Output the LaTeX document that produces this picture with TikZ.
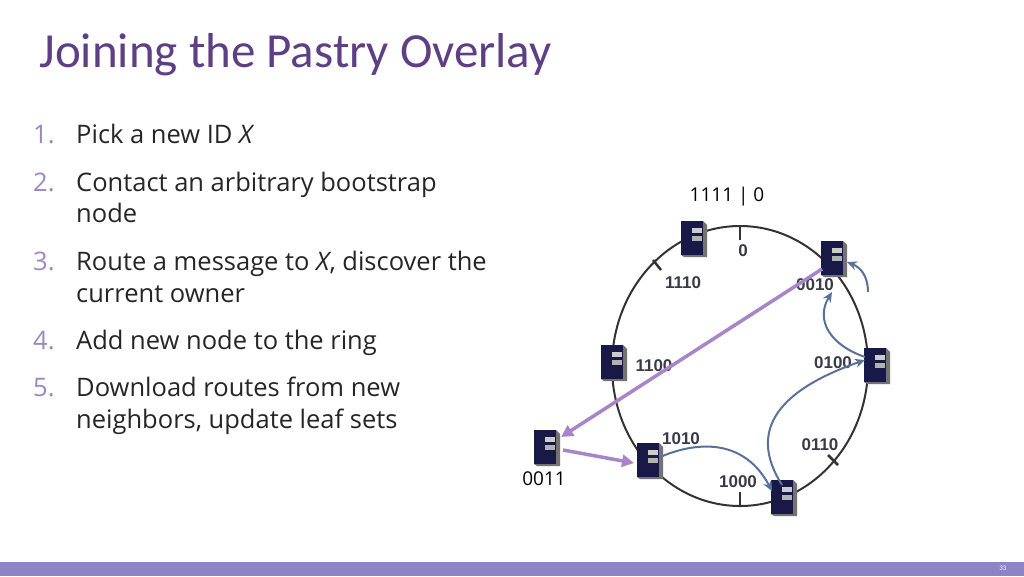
\documentclass[tikz,border=0pt]{standalone}
\usepackage{fontspec}
\setmainfont{Carlito}
\newfontfamily\lab{Liberation Sans}
\newfontfamily\body{Open Sans}
\usetikzlibrary{arrows.meta}
\definecolor{ttl}{HTML}{5E3F86}
\definecolor{num}{HTML}{9B87C4}
\definecolor{bar}{HTML}{8C84C6}
\definecolor{pur}{HTML}{A884C8}
\definecolor{blu}{HTML}{5A7198}
\definecolor{lbl}{HTML}{3A3A48}
\tikzset{
 srv/.pic={
  \fill[black!80!blue!90!white] (-11,-17) rectangle (11,17);
  \fill[black!55] (11,-17) -- (15,-13) -- (15,19) -- (-8,19) -- (-11,17) -- (11,17) -- cycle;
  \fill[gray!60] (0,-2) rectangle (10,3);
  \fill[gray!40] (0,-10) rectangle (10,-5);
 },
 lb/.style={font=\lab\bfseries\fontsize{17}{17}\selectfont, text=lbl},
 it/.style={anchor=base west, inner sep=0pt, font=\body\fontsize{25.5}{32}\selectfont, text=black!85},
 nm/.style={anchor=base west, inner sep=0pt, font=\body\fontsize{25.5}{32}\selectfont, text=num},
 parr/.style={pur, line width=3.5pt, -{Triangle[length=12pt,width=12pt]}},
 barr/.style={blu, line width=2pt, -{Stealth[length=10pt,width=9pt]}},
}
\begin{document}
\begin{tikzpicture}[x=1pt,y=-1pt]
\useasboundingbox (0,0) rectangle (1024,576);
\fill[white] (0,0) rectangle (1024,576);
\fill[bar] (0,562) rectangle (1024,576);
\node[anchor=east, text=white, font=\fontsize{7}{7}\selectfont] (pg) at (1010,568) {33};
\node[anchor=west, text=ttl, font=\fontsize{49}{49}\selectfont] (title) at (36,55) {Joining the Pastry Overlay};
\node[nm] (n1) at (33,143) {1.}; \node[it] (t1) at (76,143) {Pick a new ID \textit{X}};
\node[nm] (n2) at (33,191) {2.}; \node[it] (t2) at (76,191) {Contact an arbitrary bootstrap};
\node[it] (t2b) at (76,222) {node};
\node[nm] (n3) at (33,270) {3.}; \node[it] (t3) at (76,270) {Route a message to \textit{X}, discover the};
\node[it] (t3b) at (76,302) {current owner};
\node[nm] (n4) at (33,349) {4.}; \node[it] (t4) at (76,349) {Add new node to the ring};
\node[nm] (n5) at (33,396) {5.}; \node[it] (t5) at (76,396) {Download routes from new};
\node[it] (t5b) at (76,428) {neighbors, update leaf sets};

% ring
\draw[black!80, line width=2pt] (740,366) ellipse [x radius=128, y radius=140];
\draw[black!80, line width=2.5pt] (740,226) -- (740,240);
\draw[black!80, line width=2.5pt] (653,260) -- (661,270);
\draw[black!80, line width=2.5pt] (740,492) -- (740,506);
\draw[black!80, line width=2.5pt] (828,455) -- (838,465);
\node (top) at (727,197) {\body\fontsize{19}{19}\selectfont 1111 | 0};
\node[lb] (l0) at (743,251) {0};
\node[lb] (l1110) at (683,283) {1110};
\node[lb] (l0010) at (815,285) {0010};
\node[lb] (l1100) at (654,366) {1100};
\node[lb] (l0100) at (833,363) {0100};
\node[lb] (l1010) at (681,439) {1010};
\node[lb] (l0110) at (820,445) {0110};
\node[lb] (l1000) at (738,482) {1000};
\node (x0011) at (544,479) {\body\fontsize{19}{19}\selectfont 0011};
% servers
\pic at (692,238) {srv}; \coordinate (sTop) at (692,238);
\pic at (832,258) {srv}; \coordinate (s0010) at (832,258);
\pic at (612,362) {srv}; \coordinate (s1100) at (612,362);
\pic at (875,365) {srv}; \coordinate (s0100) at (875,365);
\pic at (648,460) {srv}; \coordinate (s1010) at (648,460);
\pic at (782,497) {srv}; \coordinate (s1000) at (782,497);
\pic at (545,447) {srv}; \coordinate (s0011) at (545,447);
% arrows
\draw[parr] ([shift={(-10,11)}]s0010) -- ([shift={(16,-10)}]s0011);
\draw[parr] ([shift={(18,3)}]s0011) -- ([shift={(-14,3)}]s1010);
\draw[barr] ([shift={(12,-3)}]s1010) .. controls (700,440) and (745,440) .. ([shift={(-10,-6)}]s1000);
\draw[barr] ([shift={(0,-12)}]s1000) .. controls (760,450) and (750,400) .. ([shift={(-10,-5)}]s0100);
\draw[barr] ([shift={(-10,-8)}]s0100) .. controls (830,345) and (815,320) .. ([shift={(0,34)}]s0010);
\draw[barr] (868,292) .. controls (868,278) and (862,268) .. ([shift={(15,4)}]s0010);
\end{tikzpicture}
\end{document}
